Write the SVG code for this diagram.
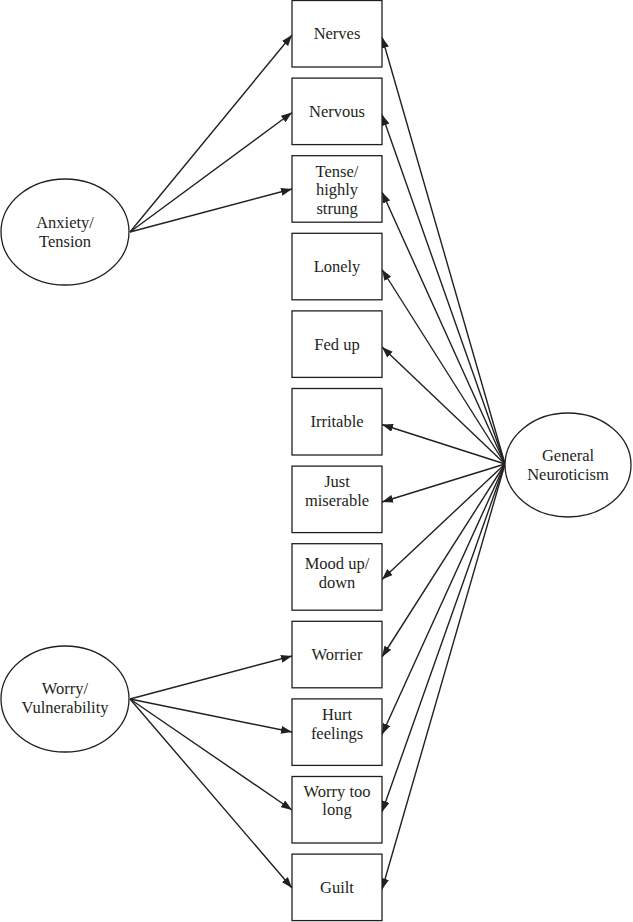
<svg xmlns="http://www.w3.org/2000/svg" width="633" height="922" viewBox="0 0 633 922">
<style>
.box{fill:#fff;stroke:#231f20;stroke-width:1.3}
.ell{fill:#fff;stroke:#231f20;stroke-width:1.3}
.t{font-family:"Liberation Serif","Times New Roman",serif;font-size:16.5px;fill:#231f20;text-anchor:middle}
.c line{stroke:#231f20;stroke-width:1.4;marker-end:url(#ah)}
</style>
<defs>
<marker id="ah" markerUnits="userSpaceOnUse" markerWidth="11" markerHeight="8" refX="11" refY="4" orient="auto">
<path d="M0,0 L11,4 L0,8 z" fill="#231f20"/>
</marker>
</defs>
<rect width="633" height="922" fill="#fff"/>
<g class="c" id="connectors">
<line x1="130" y1="232" x2="292" y2="35"/>
<line x1="130" y1="232" x2="292" y2="112.5"/>
<line x1="130" y1="232" x2="292" y2="189"/>
<line x1="130" y1="699" x2="292" y2="656"/>
<line x1="130" y1="699" x2="292" y2="732"/>
<line x1="130" y1="699" x2="292" y2="810"/>
<line x1="130" y1="699" x2="292" y2="888"/>
<line x1="505" y1="464" x2="382" y2="37"/>
<line x1="505" y1="464" x2="382" y2="114.5"/>
<line x1="505" y1="464" x2="382" y2="192"/>
<line x1="505" y1="464" x2="382" y2="269.5"/>
<line x1="505" y1="464" x2="382" y2="347"/>
<line x1="505" y1="464" x2="382" y2="424.5"/>
<line x1="505" y1="464" x2="382" y2="502"/>
<line x1="505" y1="464" x2="382" y2="579.5"/>
<line x1="505" y1="464" x2="382" y2="657"/>
<line x1="505" y1="464" x2="382" y2="734.5"/>
<line x1="505" y1="464" x2="382" y2="812"/>
<line x1="505" y1="464" x2="382" y2="889.5"/>
</g>
<g id="anxiety"><ellipse class="ell" cx="65" cy="232" rx="64" ry="53"/><text class="t" x="65" y="228">Anxiety/</text><text class="t" x="65" y="246.5">Tension</text></g>
<g id="worry"><ellipse class="ell" cx="65" cy="699" rx="64" ry="53"/><text class="t" x="65" y="694">Worry/</text><text class="t" x="65" y="712.5">Vulnerability</text></g>
<g id="general"><ellipse class="ell" cx="568" cy="465" rx="63" ry="52"/><text class="t" x="568" y="461">General</text><text class="t" x="568" y="479.5">Neuroticism</text></g>
<g id="nerves"><rect class="box" x="292" y="0.5" width="90" height="66.5"/><text class="t" x="337" y="39">Nerves</text></g>
<g id="nervous"><rect class="box" x="292" y="78.1" width="90" height="66.5"/><text class="t" x="337" y="117">Nervous</text></g>
<g id="tense"><rect class="box" x="292" y="155.7" width="90" height="66.5"/><text class="t" x="337" y="176.5">Tense/</text><text class="t" x="337" y="195">highly</text><text class="t" x="337" y="213.5">strung</text></g>
<g id="lonely"><rect class="box" x="292" y="233.3" width="90" height="66.5"/><text class="t" x="337" y="272">Lonely</text></g>
<g id="fedup"><rect class="box" x="292" y="310.9" width="90" height="66.5"/><text class="t" x="337" y="350">Fed up</text></g>
<g id="irritable"><rect class="box" x="292" y="388.5" width="90" height="66.5"/><text class="t" x="337" y="427">Irritable</text></g>
<g id="miserable"><rect class="box" x="292" y="466.1" width="90" height="66.5"/><text class="t" x="337" y="487">Just</text><text class="t" x="337" y="505.5">miserable</text></g>
<g id="mood"><rect class="box" x="292" y="543.7" width="90" height="66.5"/><text class="t" x="337" y="569">Mood up/</text><text class="t" x="337" y="587.5">down</text></g>
<g id="worrier"><rect class="box" x="292" y="621.3" width="90" height="66.5"/><text class="t" x="337" y="660">Worrier</text></g>
<g id="hurt"><rect class="box" x="292" y="698.9" width="90" height="66.5"/><text class="t" x="337" y="720">Hurt</text><text class="t" x="337" y="738.5">feelings</text></g>
<g id="worrylong"><rect class="box" x="292" y="776.5" width="90" height="66.5"/><text class="t" x="337" y="796.5">Worry too</text><text class="t" x="337" y="815">long</text></g>
<g id="guilt"><rect class="box" x="292" y="854.1" width="90" height="66.5"/><text class="t" x="337" y="893">Guilt</text></g>
</svg>
